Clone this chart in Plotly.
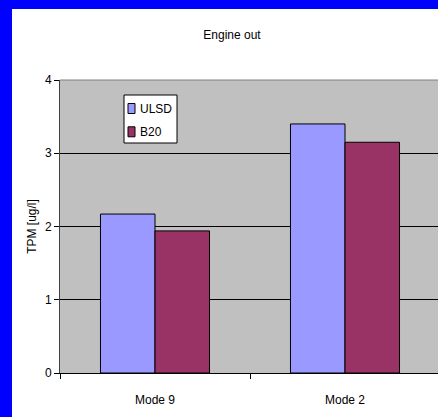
import plotly.graph_objects as go

# Particulate mass, engine-out, for two test modes
modes = ["Mode 9", "Mode 2"]
series_names = ["ULSD", "B20"]
series_colors = ["#9999FF", "#993366"]
ulsd = [2.17, 3.40]
b20 = [1.94, 3.15]

FONT = "Liberation Sans, Arial, sans-serif"
W, H = 438, 417
ML, MR, MT, MB = 60, 0, 80, 44
PW = W - ML - MR
PH = H - MT - MB


def px_x(px):
    return (px - ML) / PW


def px_y(py):
    return (H - MB - py) / PH


fig = go.Figure()
for name, vals, col in zip(series_names, [ulsd, b20], series_colors):
    fig.add_trace(go.Bar(name=name, x=modes, y=vals, showlegend=False,
                         marker=dict(color=col, line=dict(color="black", width=1))))

# L-shaped blue frame along the left and top edges (paper coordinates)
frame_pts = [(0, 0), (W, 0), (W, 9), (12, 9), (12, H), (0, H)]
frame_path = "M " + " L ".join(f"{px_x(x):.5f},{px_y(y):.5f}" for x, y in frame_pts) + " Z"

shapes = [
    dict(type="path", xref="paper", yref="paper", path=frame_path,
         fillcolor="#0000FF", line=dict(width=0), layer="above"),
    # plot area top border
    dict(type="line", xref="paper", yref="paper", x0=0, x1=1, y0=1, y1=1,
         line=dict(color="#808080", width=1)),
    # legend frame
    dict(type="rect", xref="paper", yref="paper", x0=px_x(124), x1=px_x(177),
         y0=px_y(143), y1=px_y(95), fillcolor="white",
         line=dict(color="black", width=1), layer="above"),
]
annotations = []
for i, (name, col) in enumerate(zip(series_names, series_colors)):
    cy = 108.5 + i * 23.3
    shapes.append(dict(type="rect", xref="paper", yref="paper",
                       x0=px_x(128), x1=px_x(135), y0=px_y(cy + 5), y1=px_y(cy - 5),
                       fillcolor=col, line=dict(color="black", width=1), layer="above"))
    annotations.append(dict(text=name, xref="paper", yref="paper", x=px_x(138),
                            y=px_y(cy), xanchor="left", yanchor="middle",
                            showarrow=False,
                            font=dict(family=FONT, size=12, color="black")))

fig.update_layout(
    width=W, height=H,
    margin=dict(l=ML, r=MR, t=MT, b=MB, pad=0),
    paper_bgcolor="white",
    plot_bgcolor="#C0C0C0",
    barmode="group",
    bargap=0.426,
    bargroupgap=0,
    font=dict(family=FONT, size=12, color="black"),
    title=dict(text="Engine out", x=232 / W, xref="container", xanchor="center",
               y=1 - 35 / H, yref="container", yanchor="middle",
               font=dict(family=FONT, size=12, color="black")),
    showlegend=False,
    shapes=shapes,
    annotations=annotations,
    xaxis=dict(range=[-0.5, 1.5 - 2 / 190], tickson="boundaries", ticks="outside",
               ticklen=5, tickcolor="black", showline=True, linecolor="black",
               linewidth=1, showgrid=False, fixedrange=True, ticklabelstandoff=16,
               tickfont=dict(family=FONT, size=12, color="black")),
    yaxis=dict(range=[0, 4], dtick=1, ticks="outside", ticklen=5, tickcolor="black",
               showline=True, linecolor="#404040", linewidth=1, fixedrange=True,
               showgrid=True, gridcolor="black", gridwidth=1, zeroline=False,
               title=dict(text="TPM [ug/l]", standoff=5,
                          font=dict(family=FONT, size=12, color="black")),
               tickfont=dict(family=FONT, size=12, color="black")),
)

fig.write_html("out.html", config={"displayModeBar": False})
